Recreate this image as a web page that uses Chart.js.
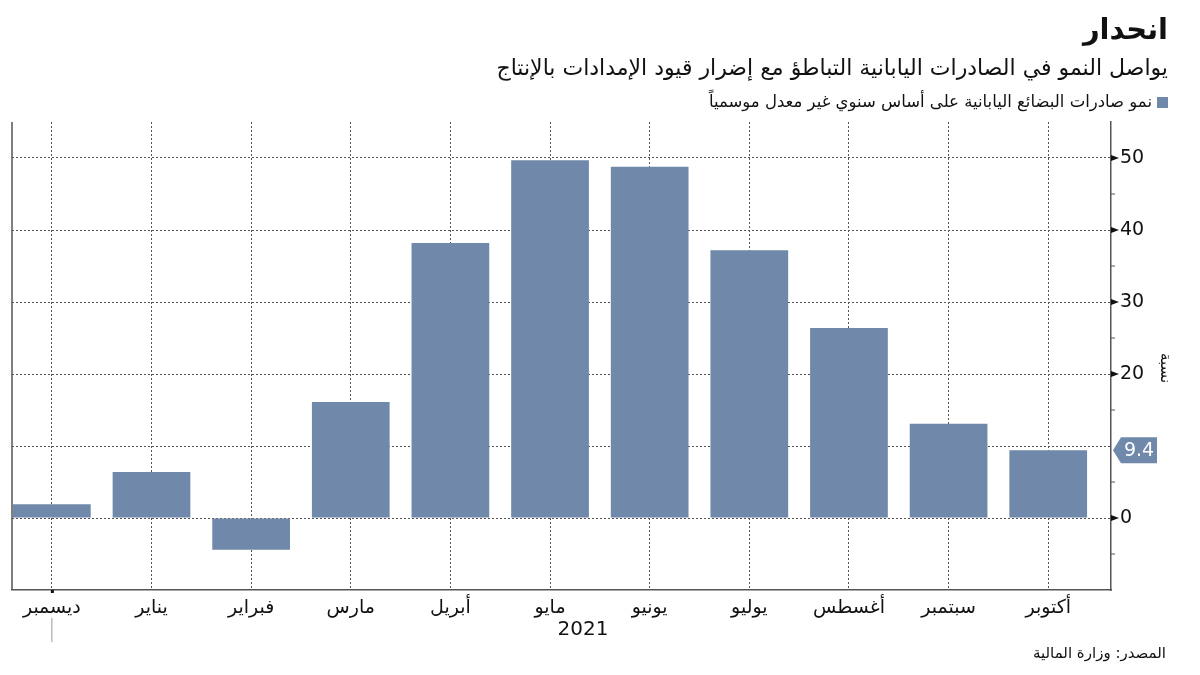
<!DOCTYPE html>
<html lang="ar">
<head>
<meta charset="utf-8">
<script src="https://cdn.jsdelivr.net/npm/chart.js@4/dist/chart.umd.min.js"></script>
<style>
    html, body { margin: 0; padding: 0; background: #fff; }
    #wrap { position: relative; width: 1200px; height: 675px; font-family: "DejaVu Sans", sans-serif; color: #111; }
    #chart { position: absolute; left: 0; top: 0; }
    .txt { position: absolute; right: 32px; direction: rtl; white-space: nowrap; }
    .title { top: 12px; font-size: 29px; font-weight: bold; }
    .subtitle { top: 55px; font-size: 22px; }
    .legend { top: 92px; font-size: 16.5px; }
    .legend i { display: inline-block; width: 11px; height: 11px; background: #7088aa; margin-left: 5px; vertical-align: -1px; }
    .source { top: 644px; right: 34px; font-size: 15px; }
</style>
</head>
<body>
<div id="wrap">
    <canvas id="chart" width="1200" height="675"></canvas>
    <div class="txt title">انحدار</div>
    <div class="txt subtitle">يواصل النمو في الصادرات اليابانية التباطؤ مع إضرار قيود الإمدادات بالإنتاج</div>
    <div class="txt legend"><i></i>نمو صادرات البضائع اليابانية على أساس سنوي غير معدل موسمياً</div>
    <div class="txt source">المصدر: وزارة المالية</div>
</div>
<script>
const months = ['ديسمبر', 'يناير', 'فبراير', 'مارس', 'أبريل', 'مايو', 'يونيو', 'يوليو', 'أغسطس', 'سبتمبر', 'أكتوبر'];
const growth = [1.9, 6.4, -4.4, 16.1, 38.2, 49.7, 48.8, 37.2, 26.4, 13.1, 9.4];
const yTicks = [0, 10, 20, 30, 40, 50];
const yMinor = [-5, 5, 15, 25, 35, 45];
const yearLabel = '2021';
const yTitle = 'نسبة';

const barColor = '#7088aa';
const axisColor = '#555';
const fontFamily = '"DejaVu Sans", sans-serif';

const extras = {
    id: 'extras',
    afterDraw(chart) {
        const { ctx, chartArea: a, scales: { x, y } } = chart;
        ctx.save();

        // left edge line
        ctx.strokeStyle = axisColor;
        ctx.lineWidth = 1.5;
        ctx.beginPath();
        ctx.moveTo(a.left, a.top);
        ctx.lineTo(a.left, a.bottom);
        ctx.stroke();

        // minor ticks and major arrow markers on right axis
        ctx.lineWidth = 1;
        yMinor.forEach((v) => {
            const py = y.getPixelForValue(v);
            ctx.beginPath();
            ctx.moveTo(a.right, py);
            ctx.lineTo(a.right + 4, py);
            ctx.stroke();
        });
        ctx.fillStyle = '#111';
        yTicks.forEach((v) => {
            if (v === 10) return;
            const py = y.getPixelForValue(v);
            ctx.beginPath();
            ctx.moveTo(a.right, py - 3);
            ctx.lineTo(a.right + 8, py);
            ctx.lineTo(a.right, py + 3);
            ctx.closePath();
            ctx.fill();
        });

        // last value marker
        const last = growth[growth.length - 1];
        const ly = y.getPixelForValue(last);
        ctx.fillStyle = barColor;
        ctx.beginPath();
        ctx.moveTo(a.right + 2, ly);
        ctx.lineTo(a.right + 10, ly - 13);
        ctx.lineTo(a.right + 46, ly - 13);
        ctx.lineTo(a.right + 46, ly + 13);
        ctx.lineTo(a.right + 10, ly + 13);
        ctx.closePath();
        ctx.fill();
        ctx.fillStyle = '#fff';
        ctx.font = `19px ${fontFamily}`;
        ctx.textAlign = 'center';
        ctx.textBaseline = 'middle';
        ctx.fillText(String(last), a.right + 28, ly + 1);

        // y axis title
        ctx.fillStyle = '#111';
        ctx.font = `15px ${fontFamily}`;
        ctx.translate(a.right + 54, (a.top + a.bottom) / 2 + 12);
        ctx.rotate(Math.PI / 2);
        ctx.fillText(yTitle, 0, 0);
        ctx.setTransform(1, 0, 0, 1, 0, 0);

        // year label and separator
        const x0 = x.getPixelForValue(0);
        ctx.fillStyle = '#111';
        ctx.fillRect(x0 - 1, a.bottom, 3, 3);
        ctx.strokeStyle = '#999';
        ctx.beginPath();
        ctx.moveTo(x0, a.bottom + 28);
        ctx.lineTo(x0, a.bottom + 52);
        ctx.stroke();
        ctx.font = `20px ${fontFamily}`;
        ctx.textAlign = 'center';
        ctx.fillText(yearLabel, x.getPixelForValue(5.33), a.bottom + 40);

        ctx.restore();
    }
};

new Chart(document.getElementById('chart'), {
    type: 'bar',
    data: {
        datasets: [{
            data: growth.map((v, i) => ({ x: i, y: v })),
            backgroundColor: barColor,
            barPercentage: 0.78,
            categoryPercentage: 1
        }]
    },
    options: {
        responsive: false,
        animation: false,
        layout: { padding: { left: 12, top: 122, right: 0, bottom: 0 } },
        plugins: { legend: { display: false }, tooltip: { enabled: false } },
        scales: {
            x: {
                type: 'linear',
                offset: false,
                min: -0.4,
                max: 10.63,
                afterBuildTicks: (scale) => { scale.ticks = months.map((_, i) => ({ value: i })); },
                afterFit: (scale) => { scale.height = 85; },
                grid: { color: axisColor, drawTicks: false, offset: false },
                border: { color: axisColor, width: 1.5, dash: [2, 2] },
                ticks: {
                    padding: 7,
                    color: '#111',
                    font: { family: fontFamily, size: 19 },
                    maxRotation: 0,
                    autoSkip: false,
                    callback: (v) => months[v]
                }
            },
            y: {
                position: 'right',
                min: -10,
                max: 55,
                afterBuildTicks: (scale) => { scale.ticks = yTicks.map((v) => ({ value: v })); },
                afterFit: (scale) => { scale.width = 89; },
                grid: { color: axisColor, drawTicks: false },
                border: { color: axisColor, width: 1.5, dash: [2, 2] },
                ticks: {
                    padding: 9,
                    color: '#111',
                    font: { family: fontFamily, size: 19 },
                    callback: (v) => (v === 10 ? '' : v)
                }
            }
        }
    },
    plugins: [extras]
});
</script>
</body>
</html>
